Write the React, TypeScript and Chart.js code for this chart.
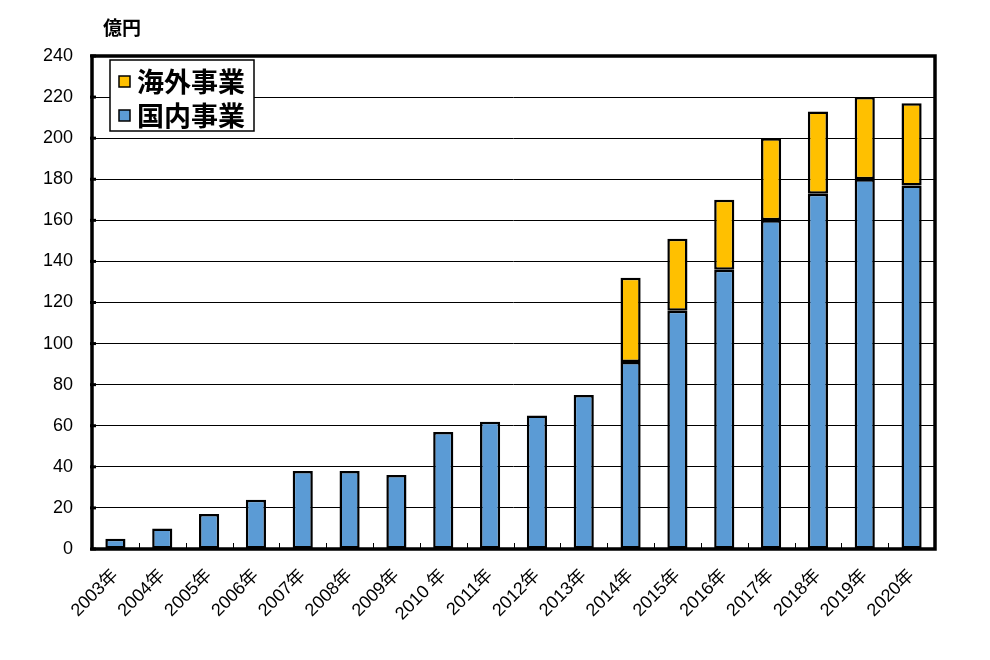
import React, { useEffect, useRef } from 'react';
import { Chart, registerables } from 'chart.js';

Chart.register(...registerables);

const years = ['2003年', '2004年', '2005年', '2006年', '2007年', '2008年', '2009年', '2010 年', '2011年', '2012年', '2013年', '2014年', '2015年', '2016年', '2017年', '2018年', '2019年', '2020年'];
const domestic = [5, 10, 17, 24, 38, 38, 36, 57, 62, 65, 75, 91, 116, 136, 160, 173, 180, 177];
const overseas = [null, null, null, null, null, null, null, null, null, null, null, 41, 35, 34, 40, 40, 40, 40];
const domesticLabel = '国内事業';
const overseasLabel = '海外事業';
const unitLabel = '億円';
const yMin = 0;
const yMax = 240;
const yStep = 20;

const FONT = '"Liberation Sans", Arial, "Noto Sans CJK JP", sans-serif';
const CJK = '"Noto Sans CJK JP", "Liberation Sans", sans-serif';

const decoPlugin = {
  id: 'deco',
  afterDatasetsDraw(chart: any) {
    const { ctx, chartArea } = chart;
    const { left, right, top, bottom } = chartArea;
    ctx.save();
    const n = chart.data.labels.length;
    const w = (right - left) / n;
    ctx.strokeStyle = '#000';
    ctx.lineWidth = 1;
    for (let i = 1; i < n; i++) {
      const x = Math.round(left + i * w) + 0.5;
      ctx.beginPath();
      ctx.moveTo(x, bottom);
      ctx.lineTo(x, bottom - 6);
      ctx.stroke();
    }
    // y tick nubs
    const ys = chart.scales.y;
    ctx.lineWidth = 3;
    ys.ticks.forEach((t: any) => {
      const y = ys.getPixelForValue(t.value);
      ctx.beginPath();
      ctx.moveTo(left - 2, y);
      ctx.lineTo(left + 4, y);
      ctx.stroke();
    });
    // frame
    ctx.lineWidth = 3.5;
    ctx.strokeRect(left, top, right - left, bottom - top);
    // unit label
    ctx.fillStyle = '#000';
    ctx.font = 'bold 19px ' + CJK;
    ctx.textAlign = 'left';
    ctx.textBaseline = 'middle';
    ctx.fillText(unitLabel, left + 11, 28);
    // legend inside chart
    const bx = left + 18, by = top + 4, bw = 144, bh = 71;
    ctx.fillStyle = '#fff';
    ctx.fillRect(bx, by, bw, bh);
    ctx.lineWidth = 1.5;
    ctx.strokeStyle = '#000';
    ctx.strokeRect(bx, by, bw, bh);
    const ds = chart.data.datasets.slice().reverse();
    ds.forEach((d: any, i: number) => {
      const cy = by + 21 + i * 34;
      ctx.fillStyle = d.backgroundColor;
      ctx.fillRect(bx + 9, cy - 5, 11, 11);
      ctx.lineWidth = 1.5;
      ctx.strokeStyle = '#000';
      ctx.strokeRect(bx + 9, cy - 5, 11, 11);
      ctx.fillStyle = '#000';
      ctx.font = 'bold 27px ' + CJK;
      ctx.textBaseline = 'middle';
      ctx.fillText(d.label, bx + 27, cy + 1);
    });
    ctx.restore();
  },
};

export default function App() {
  const ref = useRef<HTMLCanvasElement | null>(null);
  useEffect(() => {
    document.body.style.margin = '0';
    const chart = new Chart(ref.current as HTMLCanvasElement, {
      type: 'bar',
      data: {
        labels: years,
        datasets: [
          {
            label: domesticLabel,
            data: domestic,
            backgroundColor: '#5B9BD5',
            borderColor: '#000',
            borderWidth: 2.5,
            borderSkipped: false,
            barPercentage: 0.43,
            categoryPercentage: 1,
          },
          {
            label: overseasLabel,
            data: overseas as any,
            backgroundColor: '#FFC000',
            borderColor: '#000',
            borderWidth: 2.5,
            borderSkipped: false,
            barPercentage: 0.43,
            categoryPercentage: 1,
          },
        ],
      },
      options: {
        animation: false,
        responsive: true,
        maintainAspectRatio: false,
        layout: { padding: { top: 56, right: 55, left: 0, bottom: 0 } },
        plugins: { legend: { display: false }, tooltip: { enabled: false }, title: { display: false } },
        scales: {
          x: {
            stacked: true,
            grid: { display: false },
            border: { display: false },
            ticks: {
              color: '#000',
              font: { family: FONT, size: 18 },
              minRotation: 45,
              maxRotation: 45,
              autoSkip: false,
              padding: 8,
            },
            afterFit(scale: any) { scale.height = 111; },
          },
          y: {
            stacked: true,
            min: yMin,
            max: yMax,
            grid: { color: '#000', lineWidth: 1, drawTicks: false },
            border: { display: false },
            ticks: {
              stepSize: yStep,
              color: '#000',
              font: { family: FONT, size: 18 },
              padding: 19,
            },
            afterFit(scale: any) { scale.width = 92; },
          },
        },
      },
      plugins: [decoPlugin],
    });
    return () => chart.destroy();
  }, []);
  return (
    <div style={{ position: 'absolute', left: 0, top: 0, width: 990, height: 660, background: '#fff' }}>
      <canvas ref={ref} />
    </div>
  );
}
